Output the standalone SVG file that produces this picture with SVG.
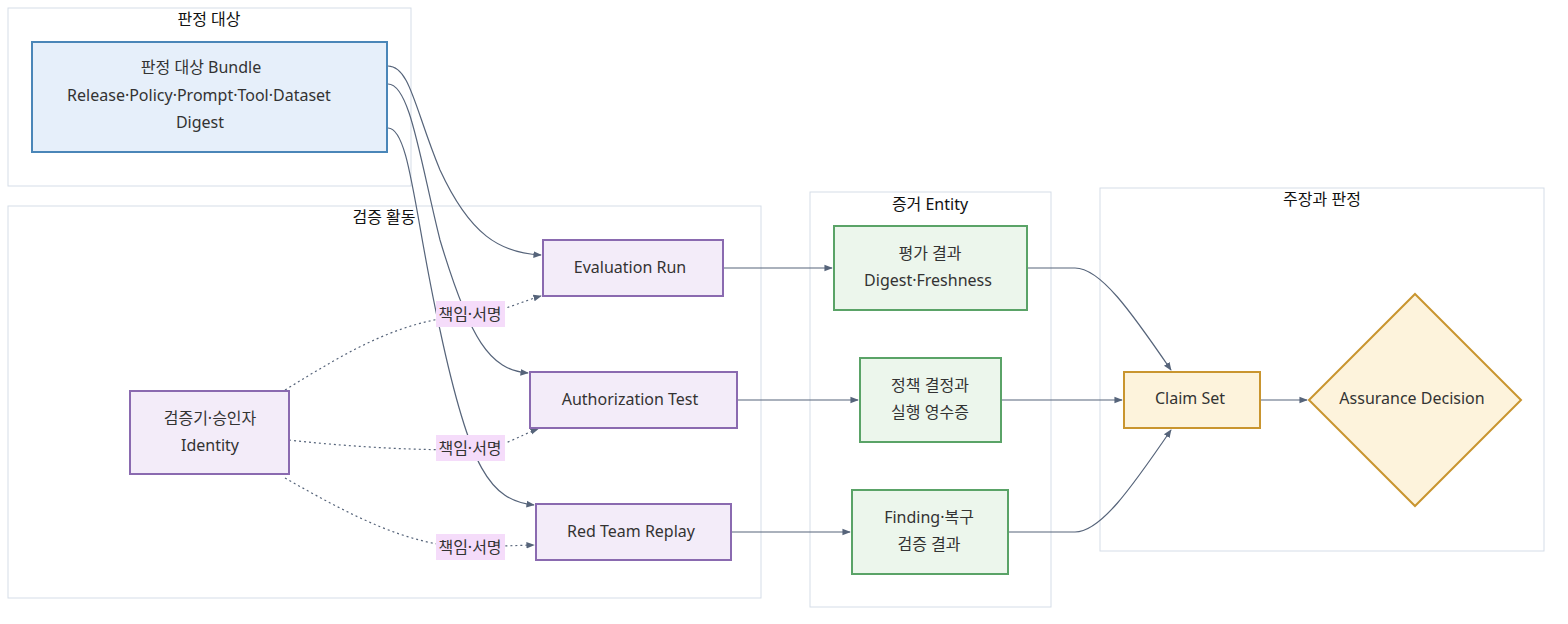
<svg xmlns="http://www.w3.org/2000/svg" width="1568" height="624" viewBox="0 0 1568 624">
<style>
text{font-family:"Noto Sans","Noto Sans CJK KR",sans-serif;font-size:16px;fill:#333;text-anchor:middle;dominant-baseline:central}
.cl{fill:#fff;stroke:#d5dde8;stroke-width:1}
.ct{fill:#111}
.blue{fill:#e6effa;stroke:#4a86b8;stroke-width:2}
.pur{fill:#f3ecf9;stroke:#8a6ab0;stroke-width:2}
.grn{fill:#ecf6ec;stroke:#5aa367;stroke-width:2}
.org{fill:#fdf3dc;stroke:#c9952f;stroke-width:2}
.e{fill:none;stroke:#56647a;stroke-width:1.2;marker-end:url(#a)}
.d{stroke-dasharray:2 3}
.lb{fill:#f5dcfa}
</style>
<defs><marker id="a" viewBox="0 0 10 10" refX="9" refY="5" markerWidth="7" markerHeight="7" orient="auto"><path d="M0,1 L10,5 L0,9 z" fill="#56647a"/></marker></defs>
<rect fill="#fff" width="1568" height="624"/>
<g id="clusters">
<rect class="cl" x="8" y="8" width="403" height="178"/><text class="ct" x="209" y="19">판정 대상</text>
<rect class="cl" x="8" y="206" width="753" height="392"/><text class="ct" x="384" y="217">검증 활동</text>
<rect class="cl" x="810" y="192" width="241" height="415"/><text class="ct" x="930" y="204">증거 Entity</text>
<rect class="cl" x="1100" y="188" width="444" height="363"/><text class="ct" x="1322" y="199">주장과 판정</text>
</g>
<g id="connectors">
<path class="e" d="M388,66 C410,66 415,110 440,170 C470,235 500,253 541,255"/>
<path class="e" d="M388,84 C410,84 420,160 440,240 C470,340 490,370 528,373"/>
<path class="e" d="M388,128 C410,128 415,220 440,330 C470,470 490,500 534,505"/>
<path class="e d" d="M285,390 C350,350 400,320 470,315 C500,313 520,302 541,296"/>
<path class="e d" d="M289,440 C360,448 420,450 470,450 C500,450 520,435 538,429"/>
<path class="e d" d="M285,478 C350,515 410,547 470,547 L534,545"/>
<path class="e" d="M723,268 L832,268"/>
<path class="e" d="M737,400 L858,400"/>
<path class="e" d="M731,532 L850,532"/>
<path class="e" d="M1027,268 L1075,268 C1100,268 1130,310 1171,370"/>
<path class="e" d="M1001,400 L1122,400"/>
<path class="e" d="M1008,532 L1075,532 C1100,532 1130,490 1171,430"/>
<path class="e" d="M1260,400 L1307,400"/>
</g>
<g id="labels">
<rect class="lb" x="436" y="301" width="69" height="26"/><text x="470" y="314">책임·서명</text>
<rect class="lb" x="436" y="435" width="69" height="26"/><text x="470" y="448">책임·서명</text>
<rect class="lb" x="436" y="534" width="69" height="26"/><text x="470" y="547">책임·서명</text>
</g>
<g id="bundle"><rect class="blue" x="32" y="42" width="355" height="110"/><text x="201" y="67">판정 대상 Bundle</text><text x="199" y="95">Release·Policy·Prompt·Tool·Dataset</text><text x="200" y="122">Digest</text></g>
<g id="eval"><rect class="pur" x="543" y="240" width="180" height="56"/><text x="630" y="267">Evaluation Run</text></g>
<g id="auth"><rect class="pur" x="530" y="372" width="207" height="56"/><text x="630" y="399">Authorization Test</text></g>
<g id="red"><rect class="pur" x="536" y="504" width="195" height="56"/><text x="631" y="531">Red Team Replay</text></g>
<g id="identity"><rect class="pur" x="130" y="391" width="159" height="83"/><text x="210" y="418">검증기·승인자</text><text x="210" y="445">Identity</text></g>
<g id="evalres"><rect class="grn" x="834" y="226" width="193" height="84"/><text x="930" y="253">평가 결과</text><text x="928" y="280">Digest·Freshness</text></g>
<g id="policy"><rect class="grn" x="860" y="358" width="141" height="84"/><text x="930" y="385">정책 결정과</text><text x="930" y="412">실행 영수증</text></g>
<g id="finding"><rect class="grn" x="852" y="490" width="156" height="84"/><text x="929" y="517">Finding·복구</text><text x="929" y="544">검증 결과</text></g>
<g id="claim"><rect class="org" x="1124" y="372" width="136" height="56"/><text x="1190" y="398">Claim Set</text></g>
<g id="decision"><polygon class="org" points="1415,294 1521,400 1415,506 1309,400"/><text x="1412" y="398">Assurance Decision</text></g>
</svg>
